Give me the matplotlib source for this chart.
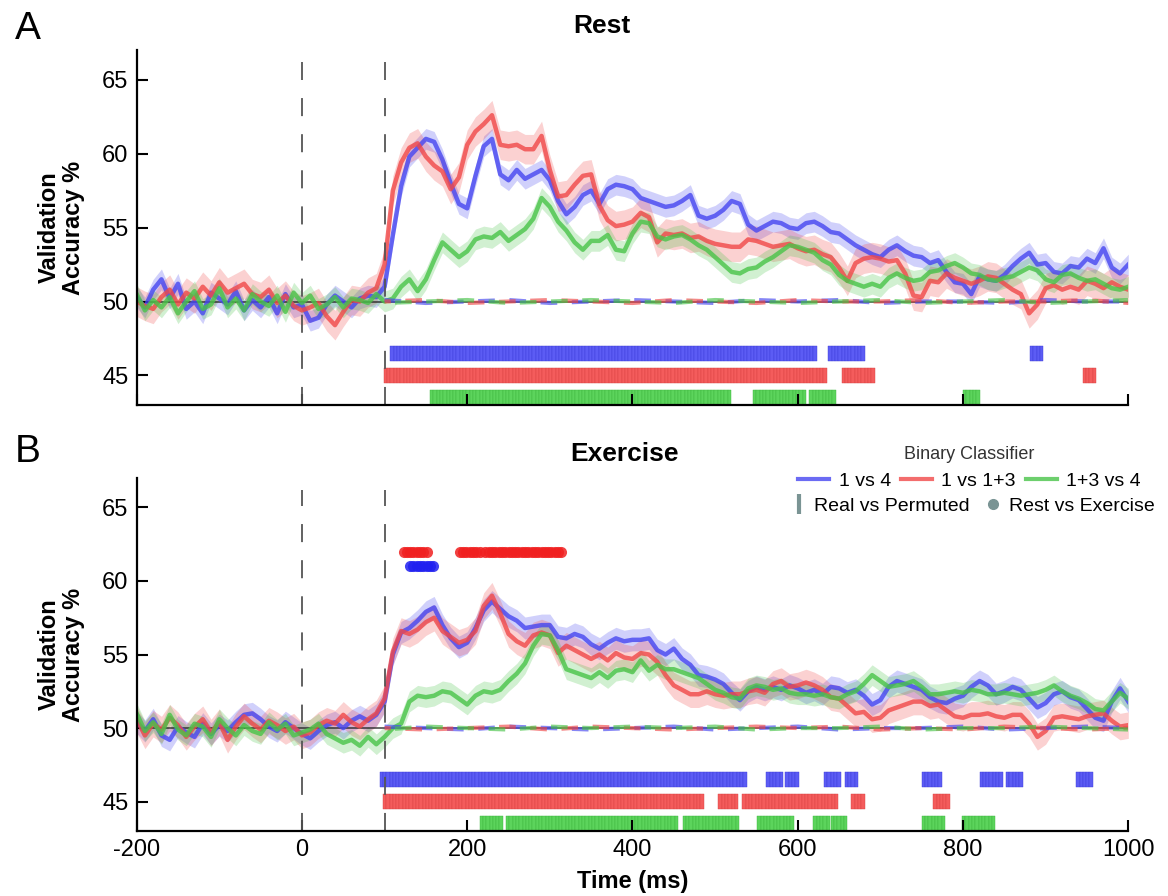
import numpy as np
import matplotlib
matplotlib.use('Agg')
import matplotlib.pyplot as plt
from matplotlib.lines import Line2D

plt.rcParams['font.family'] = ['Liberation Sans', 'DejaVu Sans']
plt.rcParams['axes.unicode_minus'] = False

# time axis (ms), one value every 10 ms
time = np.arange(-200, 1001, 10)

# ---- Rest (panel A) mean validation accuracy ----
rest_1v4 = [
    50.3, 49.6, 50.8, 51.5, 50.2, 51.2, 49.5, 50.0, 49.2, 50.6,
    50.2, 49.8, 50.7, 49.4, 50.1, 49.6, 50.3, 49.2, 50.5, 49.6,
    49.8, 48.7, 48.9, 49.8, 50.4, 50.0, 49.6, 50.2, 50.4, 50.3,
    51.0, 54.5, 57.8, 59.8, 60.4, 61.0, 60.8, 59.6, 58.0, 56.6,
    56.3, 58.5, 60.5, 61.0, 58.6, 58.2, 58.9, 58.3, 58.6, 58.9,
    58.2, 56.8, 55.9, 56.4, 57.2, 57.5, 56.6, 57.6, 57.9, 57.8,
    57.6, 57.0, 56.8, 56.6, 56.4, 56.5, 56.8, 57.2, 55.8, 55.6,
    55.8, 56.2, 56.8, 56.6, 55.2, 54.8, 55.1, 55.4, 55.3, 55.0,
    54.9, 55.3, 55.4, 55.1, 54.7, 54.6, 54.2, 53.8, 53.5, 53.2,
    53.0, 53.5, 53.8, 53.4, 53.1, 53.0, 52.6, 52.8, 52.0, 51.3,
    51.2, 50.5, 51.7, 51.5, 51.4, 51.8, 52.4, 52.9, 53.3, 52.5,
    52.6, 52.0, 51.9, 52.4, 52.3, 52.9, 52.6, 53.6, 52.3, 51.9,
    52.5]
rest_1v13 = [
    50.0, 49.7, 49.5, 50.3, 50.8, 49.8, 50.6, 50.2, 51.0, 50.4,
    51.3, 50.6, 50.9, 51.2, 50.5, 50.3, 50.8, 49.9, 50.4, 49.7,
    49.4, 49.6, 49.9, 49.0, 48.4, 49.3, 50.1, 50.0, 50.6, 50.9,
    52.5, 57.5, 59.4, 60.4, 60.7, 59.8, 59.2, 58.8, 57.6, 58.4,
    60.6, 61.5, 62.0, 62.6, 60.6, 60.5, 60.6, 60.3, 60.3, 61.2,
    58.9, 57.1, 57.2, 57.9, 58.5, 58.6, 56.5, 55.5, 55.1, 55.2,
    55.4, 56.0, 55.7, 54.0, 54.6, 54.5, 54.6, 54.3, 54.4, 54.1,
    53.9, 53.8, 53.7, 53.7, 54.2, 54.1, 53.9, 53.7, 53.8, 53.9,
    53.6, 53.4, 53.5, 53.2, 53.0, 52.3, 51.4, 52.6, 52.9, 53.0,
    52.9, 52.7, 52.8, 51.9, 50.4, 50.3, 51.4, 51.3, 51.9, 51.6,
    51.4, 51.2, 51.4, 51.7, 51.6, 51.2, 50.8, 50.5, 49.2, 49.8,
    50.9, 51.1, 50.8, 51.0, 50.8, 51.4, 51.2, 50.9, 51.3, 51.0,
    50.8]
rest_13v4 = [
    50.5, 49.4, 50.1, 49.6, 50.3, 49.2, 50.0, 50.7, 49.5, 49.8,
    50.9, 49.6, 50.2, 49.4, 50.5, 50.0, 49.7, 50.4, 49.3, 50.6,
    49.9, 50.4, 49.5, 49.8, 50.3, 49.6, 50.2, 50.1, 49.9, 50.5,
    50.0, 50.2, 51.0, 51.5, 50.7, 51.5, 52.8, 54.0, 53.5, 53.0,
    53.4, 54.2, 54.4, 54.3, 54.7, 54.1, 54.5, 54.9, 55.6, 57.0,
    56.4, 55.4, 54.8, 54.0, 53.5, 54.1, 54.1, 54.5, 53.5, 53.4,
    54.6, 55.4, 55.3, 54.4, 54.2, 54.4, 54.5, 54.2, 53.8, 53.5,
    53.0, 52.5, 52.0, 51.9, 52.2, 52.3, 52.7, 53.0, 53.4, 53.8,
    53.7, 53.5, 53.3, 52.8, 52.5, 51.8, 51.4, 51.2, 51.0, 51.2,
    51.0, 51.6, 51.9, 51.6, 51.4, 51.5, 52.0, 52.1, 52.4, 52.6,
    52.3, 51.9, 51.8, 51.5, 51.4, 51.6, 51.7, 52.0, 52.3, 52.1,
    51.5, 51.3, 51.8, 51.9, 51.6, 51.4, 51.5, 51.2, 50.9, 50.8,
    51.0]

# ---- Exercise (panel B) ----
ex_1v4 = [
    50.4, 49.8, 50.6, 49.5, 49.2, 50.1, 49.7, 49.4, 50.3, 49.6,
    50.2, 49.8, 50.4, 50.9, 51.0, 50.6, 50.1, 49.8, 50.4, 50.0,
    49.6, 49.3, 49.8, 50.2, 50.4, 50.0, 50.5, 50.8, 50.5, 50.9,
    51.8, 55.0, 56.5, 56.8, 57.3, 57.9, 58.2, 57.0, 56.1, 55.5,
    55.8, 56.8, 58.0, 58.6, 58.1, 57.6, 57.3, 56.8, 56.9, 57.0,
    57.0, 56.2, 56.1, 56.4, 56.2, 55.7, 55.4, 55.8, 56.1, 55.9,
    56.0, 56.0, 56.1, 55.3, 55.0, 55.4, 54.7, 54.3, 53.6, 53.5,
    53.3, 53.0, 52.4, 51.9, 52.5, 52.8, 52.6, 52.8, 52.6, 52.9,
    52.7, 52.4, 52.6, 52.3, 52.8, 52.7, 52.4, 52.6, 52.2, 51.6,
    51.9, 52.8, 53.2, 53.0, 52.8, 52.6, 52.1, 51.8, 51.7, 52.0,
    52.2, 52.8, 53.2, 52.9, 52.3, 52.5, 52.8, 52.6, 52.0, 51.4,
    51.7, 52.3, 52.5, 52.1, 51.9, 51.3, 50.7, 50.5, 51.8, 52.7,
    51.8]
ex_1v13 = [
    50.6, 49.5, 50.3, 49.9, 50.7, 50.2, 49.4, 50.1, 50.6, 49.7,
    50.4, 49.2, 50.1, 50.8, 50.3, 49.9, 50.5, 50.2, 49.8, 50.1,
    49.5, 49.7, 50.2, 50.5, 50.3, 50.9, 50.4, 50.1, 50.6, 51.0,
    52.0, 55.2, 56.6, 56.4, 56.7, 57.2, 57.5, 56.6, 56.2, 55.8,
    56.0, 56.6, 58.3, 59.0, 57.8, 56.4, 55.9, 55.6, 56.3, 56.5,
    56.3, 55.1, 55.6, 55.3, 55.0, 54.7, 55.0, 54.6, 55.1, 54.8,
    54.7, 55.1, 55.0, 54.5, 53.6, 52.9, 52.6, 52.3, 52.3, 52.5,
    52.3, 52.2, 52.3, 52.3, 52.5, 52.6, 52.4, 53.0, 53.2, 52.8,
    52.9, 53.1, 52.9, 52.6, 52.1, 52.0, 51.5, 51.0, 51.1, 50.6,
    50.7, 51.2, 51.4, 51.6, 51.8, 51.8, 51.5, 51.6, 51.2, 50.8,
    50.7, 50.9, 50.9, 51.0, 50.8, 50.7, 50.9, 50.9, 50.3, 49.4,
    49.8, 50.7, 50.8, 50.7, 50.6, 50.8, 50.9, 51.0, 50.5, 50.1,
    50.2]
ex_13v4 = [
    51.0, 49.8, 50.4, 49.6, 50.9, 49.9, 49.5, 50.3, 50.1, 49.4,
    50.6, 50.0, 49.5, 50.2, 49.8, 49.6, 50.4, 49.9, 50.3, 49.5,
    49.7, 49.9, 50.3, 49.6, 49.3, 49.0, 49.2, 48.8, 49.4, 48.9,
    49.4, 50.0, 50.3, 51.8, 52.2, 52.1, 52.2, 52.5, 52.4, 52.0,
    51.6, 52.2, 52.5, 52.4, 52.6, 53.2, 53.7, 54.4, 55.6, 56.4,
    56.3, 55.3, 54.0, 53.8, 53.6, 53.4, 53.8, 53.4, 53.9, 54.0,
    53.8, 54.6, 53.9, 54.3, 54.0, 54.0, 53.8, 53.6, 53.4, 53.0,
    52.6, 52.4, 52.1, 52.0, 52.7, 52.9, 52.8, 52.6, 52.7, 52.4,
    52.3, 52.3, 52.2, 52.3, 52.1, 52.0, 52.3, 52.5, 53.0, 53.6,
    53.2, 52.8, 52.9, 53.0, 53.2, 52.8, 52.3, 52.3, 52.4, 52.5,
    52.4, 52.6, 52.5, 52.3, 52.3, 52.4, 52.3, 52.2, 52.3, 52.4,
    52.6, 52.9, 52.5, 52.2, 52.0, 51.7, 51.3, 51.2, 51.8, 52.4,
    52.0]

# standard error of each curve (shaded band half-width)
rest_sem = [0.7, 1.0, 0.7]
ex_sem = [0.75, 0.9, 0.7]

# permuted-label accuracy (dashed), every 50 ms from 100 to 1000 ms
perm_time = np.arange(100, 1001, 50)
rest_perm = [
    [50.1, 49.9, 50.0, 50.1, 49.9, 50.0, 50.1, 50.0, 49.9, 50.1, 50.0, 50.1, 49.9, 50.0, 50.0, 49.9, 50.1, 50.0, 50.0],
    [50.0, 50.1, 49.9, 50.0, 50.1, 50.0, 49.9, 50.1, 50.0, 49.9, 50.1, 50.0, 50.0, 50.1, 49.9, 50.0, 50.0, 50.1, 49.9],
    [49.9, 50.0, 50.1, 49.9, 50.0, 50.1, 50.0, 49.9, 50.1, 50.0, 49.9, 50.0, 50.1, 49.9, 50.0, 50.1, 49.9, 50.0, 50.1]]
ex_perm = [
    [50.1, 50.0, 49.9, 50.1, 50.0, 49.9, 50.0, 50.1, 49.9, 50.0, 50.1, 49.9, 50.0, 50.0, 50.1, 49.9, 50.0, 50.1, 50.0],
    [50.0, 49.9, 50.0, 50.1, 49.9, 50.1, 50.0, 49.9, 50.0, 50.1, 50.0, 50.1, 49.9, 50.0, 49.9, 50.1, 50.0, 49.9, 50.0],
    [49.9, 50.1, 50.0, 49.9, 50.1, 50.0, 50.1, 50.0, 50.1, 49.9, 50.0, 50.0, 50.1, 49.9, 50.0, 50.0, 50.1, 50.0, 49.9]]

# significant windows, real vs permuted (start, end) in ms
rest_sig = [
    [(107, 623), (637, 678), (881, 897)],
    [(99, 633), (653, 690), (945, 958)],
    [(155, 518), (546, 610), (614, 645), (800, 817)]]
ex_sig = [
    [(94, 537), (562, 580), (585, 600), (632, 649), (657, 673), (750, 774), (820, 845), (852, 869), (937, 956)],
    [(98, 485), (504, 525), (533, 630), (633, 649), (665, 680), (764, 782)],
    [(215, 243), (247, 455), (461, 527), (551, 593), (619, 636), (640, 657), (750, 778), (799, 838)]]

# rest vs exercise significant windows (panel B, dots)
rvse_1v4 = [(131, 159)]
rvse_1v13 = [(123, 153), (191, 215), (222, 314)]

labels = ['1 vs 4', '1 vs 1+3', '1+3 vs 4']
colors = ['#4646f0', '#f04848', '#48c448']
bar_colors = ['#5c5cf4', '#f45c5c', '#5cd45c']
bar_edges = ['#3c3cd8', '#d84040', '#3cb43c']
sig_rows = [46.5, 45.0, 43.5]


def draw_panel(ax, curves, sems, perms, sigs, title, title_x):
    for i in range(3):
        y = np.array(curves[i])
        ax.fill_between(time, y - sems[i], y + sems[i], color=colors[i], alpha=0.25, lw=0)
    for i in range(3):
        ax.plot(time, curves[i], color=colors[i], lw=3.2, alpha=0.8)
    for i in range(3):
        ax.plot(perm_time, perms[i], color=colors[i], lw=3.0, alpha=0.65,
                ls=(i * 2.5, (4, 3.5)))
    ax.axhline(50, color='#222222', lw=1.2, alpha=0.8, zorder=1)
    for x in (0, 100):
        ax.vlines(x, 43, 66.2, colors='#555555', lw=1.3, linestyles=(0, (10, 10)))
    for i in range(3):
        for (s, e) in sigs[i]:
            ts = np.arange(s, e, 4)
            ax.bar(ts, 1.0, width=4, bottom=sig_rows[i] - 0.5, align='edge',
                   color=bar_colors[i], edgecolor=bar_edges[i], linewidth=0.3)
    ax.set_xlim(-200, 1000)
    ax.set_ylim(43, 67)
    ax.set_xticks(range(-200, 1001, 200))
    ax.set_yticks([45, 50, 55, 60, 65])
    ax.tick_params(direction='in', length=8, width=1.5, labelsize=17, pad=6)
    for side in ('top', 'right'):
        ax.spines[side].set_visible(False)
    for side in ('left', 'bottom'):
        ax.spines[side].set_linewidth(1.6)
    ax.set_ylabel('Validation\nAccuracy %', fontsize=17, fontweight='bold', labelpad=12, linespacing=1.1)
    ax.text(title_x, 1.035, title, transform=ax.transAxes, ha='center', va='bottom',
            fontsize=19, fontweight='bold')


fig = plt.figure(figsize=(11.68, 8.96), dpi=100)
axA = fig.add_axes([0.117, 0.548, 0.849, 0.396])
axB = fig.add_axes([0.117, 0.0725, 0.849, 0.394])

draw_panel(axA, [rest_1v4, rest_1v13, rest_13v4], rest_sem, rest_perm, rest_sig, 'Rest', 0.469)
draw_panel(axB, [ex_1v4, ex_1v13, ex_13v4], ex_sem, ex_perm, ex_sig, 'Exercise', 0.492)
axA.tick_params(labelbottom=False)
axB.set_xlabel('Time (ms)', fontsize=17, fontweight='bold', labelpad=6)

# rest vs exercise dots
for windows, level, c in ((rvse_1v13, 62.0, '#f02020'), (rvse_1v4, 61.0, '#2020f0')):
    for (s, e) in windows:
        ts = np.arange(s, e + 1, 4)
        axB.plot(ts, [level] * len(ts), 'o', color=c, ms=8, mew=0, alpha=0.85)

fig.text(0.024, 0.968, 'A', fontsize=28, ha='center', va='center')
fig.text(0.024, 0.495, 'B', fontsize=28, ha='center', va='center')

# legends
line_handles = [Line2D([], [], color=colors[i], lw=3, alpha=0.8) for i in range(3)]
leg1 = fig.legend(line_handles, labels, loc='center', bbox_to_anchor=(0.83, 0.478), ncol=3,
                  frameon=False, fontsize=14, title='Binary Classifier', title_fontsize=13,
                  handlelength=1.6, handletextpad=0.5, columnspacing=0.5)
leg1.get_title().set_color('#333333')
other_handles = [Line2D([], [], color='#7a9494', marker='|', ls='none', ms=14, mew=3),
                 Line2D([], [], color='#7a9494', marker='o', ls='none', ms=7)]
fig.legend(other_handles, ['Real vs Permuted', 'Rest vs Exercise'], loc='center',
           bbox_to_anchor=(0.833, 0.435), ncol=2, frameon=False, fontsize=14,
           handlelength=0.8, handletextpad=0.4, columnspacing=0.8)

fig.savefig('out.png', dpi=100)
